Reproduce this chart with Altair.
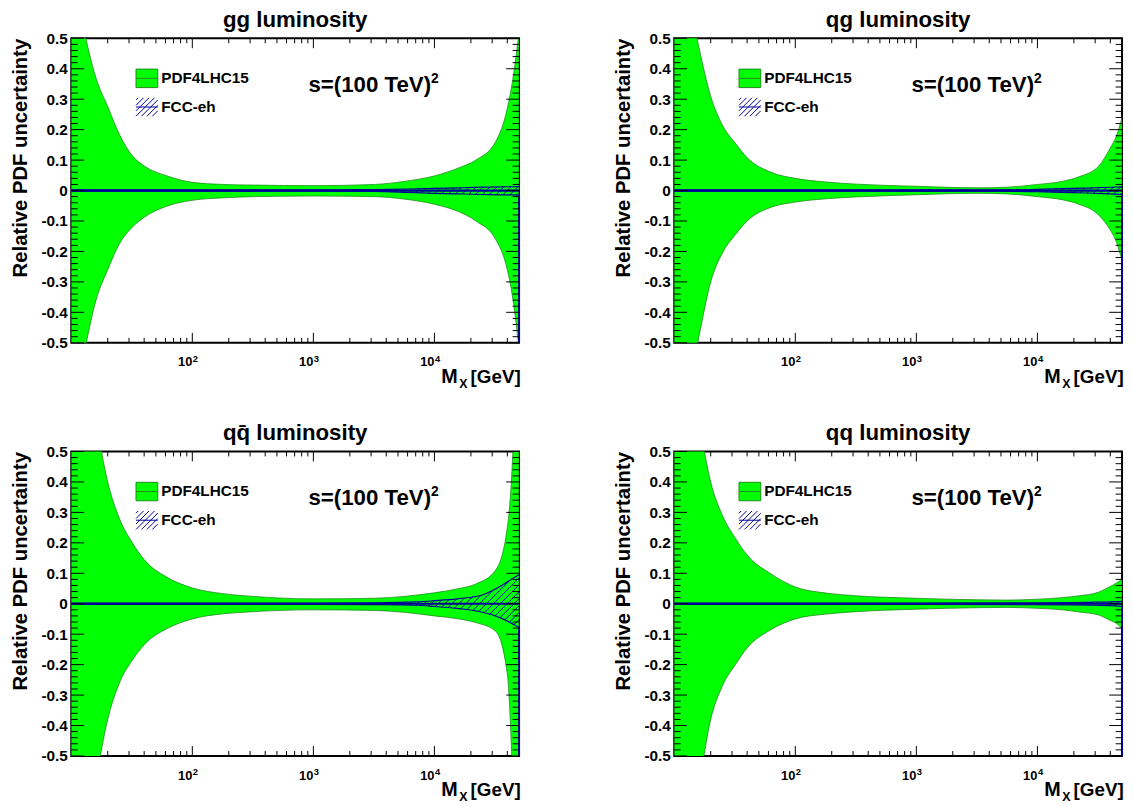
import numpy as np
import pandas as pd
import altair as alt

FONT = "Liberation Sans"
GREEN = "#00ff00"
DKGREEN = "#1e8c1e"
NAVY = "#000099"

W, H = 453, 308
X_DOMAIN = [10, 50000]
Y_DOMAIN = [-0.5, 0.5]

TITLES = ["gg luminosity", "qg luminosity", "qq\u0304 luminosity", "qq luminosity"]

# ---- PDF4LHC15 band ----
M_GRID = [10, 12.5, 16, 20, 25, 32, 40, 63, 100, 180, 320, 1000, 3200, 5600,
          10000, 16000, 22000, 32000, 40000, 45000, 50000]

GG_HI = [0.72, 0.54, 0.37, 0.276, 0.184, 0.114, 0.081, 0.047, 0.027, 0.02, 0.018,
         0.016, 0.02, 0.03, 0.048, 0.075, 0.10, 0.16, 0.27, 0.38, 0.52]
GG_LO = [-0.72, -0.55, -0.36, -0.26, -0.175, -0.12, -0.088, -0.05, -0.032, -0.024, -0.02,
         -0.018, -0.02, -0.028, -0.045, -0.07, -0.10, -0.16, -0.26, -0.37, -0.52]

QG_HI = [0.95, 0.68, 0.47, 0.31, 0.215, 0.155, 0.108, 0.06, 0.04, 0.028, 0.021,
         0.014, 0.009, 0.011, 0.02, 0.03, 0.045, 0.08, 0.14, 0.18, 0.24]
QG_LO = [-0.95, -0.70, -0.48, -0.30, -0.205, -0.145, -0.10, -0.055, -0.038, -0.027, -0.021,
         -0.014, -0.009, -0.011, -0.02, -0.03, -0.045, -0.08, -0.13, -0.17, -0.23]

QQB_HI = [1.2, 0.85, 0.6, 0.4, 0.28, 0.2, 0.145, 0.085, 0.052, 0.033, 0.024,
          0.016, 0.018, 0.024, 0.036, 0.05, 0.065, 0.11, 0.25, 0.55, 1.2]
QQB_LO = [-1.2, -0.85, -0.58, -0.38, -0.26, -0.185, -0.135, -0.08, -0.05, -0.033, -0.026,
          -0.02, -0.022, -0.028, -0.04, -0.05, -0.062, -0.09, -0.23, -0.65, -1.2]

QQ_HI = [1.2, 0.85, 0.6, 0.4, 0.29, 0.215, 0.16, 0.098, 0.055, 0.035, 0.026,
         0.018, 0.013, 0.012, 0.015, 0.02, 0.026, 0.038, 0.057, 0.068, 0.081]
QQ_LO = [-1.2, -0.85, -0.6, -0.38, -0.27, -0.2, -0.145, -0.085, -0.05, -0.034, -0.026,
         -0.018, -0.013, -0.012, -0.015, -0.02, -0.027, -0.037, -0.055, -0.065, -0.081]

# ---- FCC-eh band ----
FCC_GG_M = [10, 100, 1000, 3200, 6000, 10000, 16000, 25000, 35000, 50000]
FCC_GG_HI = [0.002, 0.002, 0.002, 0.003, 0.005, 0.007, 0.009, 0.011, 0.012, 0.013]
FCC_GG_LO = [-0.002, -0.002, -0.002, -0.003, -0.006, -0.009, -0.011, -0.013, -0.014, -0.015]

FCC_QG_M = [10, 100, 1000, 5000, 10000, 16000, 25000, 35000, 50000]
FCC_QG_HI = [0.002, 0.002, 0.002, 0.002, 0.004, 0.006, 0.008, 0.010, 0.012]
FCC_QG_LO = [-0.002, -0.002, -0.002, -0.002, -0.004, -0.006, -0.008, -0.010, -0.013]

FCC_QQB_M = [10, 100, 1000, 3200, 7000, 10000, 16000, 24500, 36000, 46000, 50000]
FCC_QQB_HI = [0.002, 0.002, 0.002, 0.003, 0.006, 0.010, 0.017, 0.028, 0.060, 0.087, 0.095]
FCC_QQB_LO = [-0.002, -0.002, -0.002, -0.003, -0.005, -0.009, -0.016, -0.027, -0.048, -0.070, -0.078]

FCC_QQ_M = [10, 100, 1000, 10000, 20000, 30000, 40000, 50000]
FCC_QQ_HI = [0.002, 0.002, 0.002, 0.003, 0.004, 0.005, 0.006, 0.008]
FCC_QQ_LO = [-0.002, -0.002, -0.002, -0.003, -0.004, -0.005, -0.006, -0.008]

FCC_CENTER_M = [10, 50000]
FCC_CENTER_V = [0.0, 0.0]

# ---- ticks / labels ----
X_MAJOR = [100, 1000, 10000]
X_EXP = ["2", "3", "4"]
X_MINOR = [d * 10 ** e for e in (1, 2, 3) for d in range(2, 10)] + [20000, 30000, 40000]
Y_MAJOR = [k / 10 for k in range(-5, 6)]
Y_MINOR = [k / 50 for k in range(-25, 26) if k % 5 != 0]

LEG_NAMES = ["PDF4LHC15", "FCC-eh"]
ANNOT = ["s=(100 TeV)"]
ANNOT_EXP = ["2"]

PATH_BOX = "M-1,-0.85H1V0.85H-1Z M-1,0H1"
PATH_HATCH = ("M-1,-0.65L-0.8,-0.85 M-1,-0.15L-0.3,-0.85 M-1,0.35L0.2,-0.85 "
              "M-1,0.85L0.7,-0.85 M-0.5,0.85L1,-0.65 M0,0.85L1,-0.15 M0.5,0.85L1,0.35 M-1,0H1")

XS = alt.Scale(type="log", domain=X_DOMAIN, nice=False)
YS = alt.Scale(domain=Y_DOMAIN, nice=False, zero=False)
LOG_MIN, LOG_MAX = np.log10(X_DOMAIN[0]), np.log10(X_DOMAIN[1])
HATCH_STEP = 7.0


def hatch_segments(m, hi, lo):
    m = np.asarray(m, float)
    X = (np.log10(m) - LOG_MIN) / (LOG_MAX - LOG_MIN) * W
    span = Y_DOMAIN[1] - Y_DOMAIN[0]
    Yhi = (np.asarray(hi, float) - Y_DOMAIN[0]) / span * H
    Ylo = (np.asarray(lo, float) - Y_DOMAIN[0]) / span * H

    def cross(Yb, c):
        f = Yb - X - c
        for i in range(len(X) - 1):
            if f[i] == 0:
                return X[i]
            if f[i] * f[i + 1] < 0:
                t = f[i] / (f[i] - f[i + 1])
                return X[i] + t * (X[i + 1] - X[i])
        return None

    rows = []
    cmin, cmax = (Ylo - X).min(), (Yhi - X).max()
    c = np.ceil(cmin / HATCH_STEP) * HATCH_STEP
    while c <= cmax:
        xl = cross(Ylo, c)
        xu = cross(Yhi, c)
        if xl is not None:
            xe = X[-1] if (xu is None or xu < xl) else xu
            if xe - xl > 0.5:
                rows.append({
                    "m1": 10 ** (LOG_MIN + xl / W * (LOG_MAX - LOG_MIN)),
                    "v1": Y_DOMAIN[0] + (xl + c) / H * span,
                    "m2": 10 ** (LOG_MIN + xe / W * (LOG_MAX - LOG_MIN)),
                    "v2": Y_DOMAIN[0] + (xe + c) / H * span,
                })
        c += HATCH_STEP
    return pd.DataFrame(rows)


Y_AXIS = alt.Axis(
    values=Y_MAJOR,
    labelExpr="datum.value == 0 ? '0' : (datum.value < 0 ? '-' : '') + format(abs(datum.value), '.1f')",
    title="Relative PDF uncertainty", titleFont=FONT, titleFontSize=20.5, titleFontWeight="bold",
    titleColor="black", titleAnchor="end", titlePadding=11,
    labelFont=FONT, labelFontSize=15.5, labelFontWeight="bold", labelColor="black",
    labelPadding=4, ticks=False, domain=False, grid=False, labelOverlap=False,
)


def xq(field):
    return alt.X(f"{field}:Q", scale=XS, axis=None)


def yq(field):
    return alt.Y(f"{field}:Q", scale=YS, axis=Y_AXIS)


LEGEND = alt.Legend(
    title=None, orient="none", legendX=65, legendY=29, symbolSize=484,
    symbolStrokeWidth=1, symbolOpacity=1, labelFont=FONT, labelFontSize=15.5,
    labelFontWeight="bold", labelColor="black", labelOffset=3, rowPadding=6, padding=0,
)


def panel(title, hi, lo, fm, fhi, flo):
    band_df = pd.DataFrame({"m": M_GRID, "hi": hi, "lo": lo})
    fcc_df = pd.DataFrame({"m": fm, "hi": fhi, "lo": flo})
    cen_df = pd.DataFrame({"m": FCC_CENTER_M, "v": FCC_CENTER_V})
    edge_df = pd.DataFrame({"m": [fm[-1]], "a": [flo[-1]], "b": [Y_DOMAIN[0]]})
    hatch_df = hatch_segments(fm, fhi, flo)

    layers = []
    layers.append(alt.Chart(band_df).mark_area(
        color=GREEN, stroke=DKGREEN, strokeWidth=0.8, interpolate="monotone", clip=True
    ).encode(x=xq("m"), y=yq("hi"), y2="lo:Q"))
    layers.append(alt.Chart(hatch_df).mark_rule(color=NAVY, strokeWidth=1, clip=True).encode(
        x=xq("m1"), x2="m2:Q", y=yq("v1"), y2="v2:Q"))
    for f in ("hi", "lo"):
        layers.append(alt.Chart(fcc_df).mark_line(color=NAVY, strokeWidth=1.2, interpolate="monotone", clip=True)
                      .encode(x=xq("m"), y=yq(f)))
    layers.append(alt.Chart(cen_df).mark_line(color=NAVY, strokeWidth=2.2, clip=True)
                  .encode(x=xq("m"), y=yq("v")))
    layers.append(alt.Chart(edge_df).mark_rule(color=NAVY, strokeWidth=2)
                  .encode(x=xq("m"), y=yq("a"), y2="b:Q"))

    # ticks (inward, ROOT style)
    xmaj = pd.DataFrame({"v": X_MAJOR})
    xmin = pd.DataFrame({"v": X_MINOR})
    ymaj = pd.DataFrame({"v": Y_MAJOR})
    ymin = pd.DataFrame({"v": Y_MINOR})
    for df, ln in ((xmaj, 10), (xmin, 5)):
        layers.append(alt.Chart(df).mark_rule(color="black", strokeWidth=1).encode(
            x=xq("v"), y=alt.value(H), y2=alt.value(H - ln)))
        layers.append(alt.Chart(df).mark_rule(color="black", strokeWidth=1).encode(
            x=xq("v"), y=alt.value(0), y2=alt.value(ln)))
    for df, ln in ((ymaj, 13), (ymin, 6.5)):
        layers.append(alt.Chart(df).mark_rule(color="black", strokeWidth=1).encode(
            y=yq("v"), x=alt.value(0), x2=alt.value(ln)))
        layers.append(alt.Chart(df).mark_rule(color="black", strokeWidth=1).encode(
            y=yq("v"), x=alt.value(W - ln), x2=alt.value(W)))

    # x tick labels 10^n
    lab_df = pd.DataFrame({"v": X_MAJOR, "e": X_EXP, "b": ["10"] * len(X_MAJOR)})
    layers.append(alt.Chart(lab_df).mark_text(
        font=FONT, fontSize=13, fontWeight="bold", color="black", align="right", baseline="alphabetic"
    ).encode(x=xq("v"), y=alt.value(H + 24), text="b:N"))
    layers.append(alt.Chart(lab_df).mark_text(
        font=FONT, fontSize=9.5, fontWeight="bold", color="black", align="left", baseline="alphabetic", dx=0.5
    ).encode(x=xq("v"), y=alt.value(H + 19), text="e:N"))

    # x title M_X [GeV]
    t_df = pd.DataFrame({"a": ["M"], "b": ["X"], "c": ["[GeV]"]})
    layers.append(alt.Chart(t_df).mark_text(font=FONT, fontSize=20, fontWeight="bold", color="black",
                                            align="right", baseline="alphabetic")
                  .encode(x=alt.value(W - 62), y=alt.value(H + 41), text="a:N"))
    layers.append(alt.Chart(t_df).mark_text(font=FONT, fontSize=12.5, fontWeight="bold", color="black",
                                            align="left", baseline="alphabetic")
                  .encode(x=alt.value(W - 60.5), y=alt.value(H + 46), text="b:N"))
    layers.append(alt.Chart(t_df).mark_text(font=FONT, fontSize=19, fontWeight="bold", color="black",
                                            align="left", baseline="alphabetic")
                  .encode(x=alt.value(W - 49), y=alt.value(H + 41), text="c:N"))

    # annotation s=(100 TeV)^2
    a_df = pd.DataFrame({"t": ANNOT, "e": ANNOT_EXP})
    layers.append(alt.Chart(a_df).mark_text(font=FONT, fontSize=22.5, fontWeight="bold", color="black",
                                            align="left", baseline="alphabetic")
                  .encode(x=alt.value(240), y=alt.value(54), text="t:N"))
    layers.append(alt.Chart(a_df).mark_text(font=FONT, fontSize=14, fontWeight="bold", color="black",
                                            align="left", baseline="alphabetic")
                  .encode(x=alt.value(364), y=alt.value(45), text="e:N"))

    # legend
    leg_df = pd.DataFrame({"name": LEG_NAMES})
    layers.append(alt.Chart(leg_df).mark_point(opacity=0, size=1).encode(
        fill=alt.Fill("name:N", scale=alt.Scale(domain=LEG_NAMES, range=[GREEN, "transparent"]), legend=LEGEND),
        stroke=alt.Stroke("name:N", scale=alt.Scale(domain=LEG_NAMES, range=[DKGREEN, NAVY]), legend=LEGEND),
        shape=alt.Shape("name:N", scale=alt.Scale(domain=LEG_NAMES, range=[PATH_BOX, PATH_HATCH]), legend=LEGEND),
    ))

    return alt.layer(*layers).properties(
        width=W, height=H,
        title=alt.TitleParams(title, font=FONT, fontSize=22.5, fontWeight="bold", color="black",
                              anchor="middle", frame="group", offset=0),
    )


p1 = panel(TITLES[0], GG_HI, GG_LO, FCC_GG_M, FCC_GG_HI, FCC_GG_LO)
p2 = panel(TITLES[1], QG_HI, QG_LO, FCC_QG_M, FCC_QG_HI, FCC_QG_LO)
p3 = panel(TITLES[2], QQB_HI, QQB_LO, FCC_QQB_M, FCC_QQB_HI, FCC_QQB_LO)
p4 = panel(TITLES[3], QQ_HI, QQ_LO, FCC_QQ_M, FCC_QQ_HI, FCC_QQ_LO)

chart = alt.concat(p1, p2, p3, p4, columns=2, spacing={"row": 29, "column": 91}).resolve_scale(
    fill="independent", stroke="independent", shape="independent"
).properties(
    padding={"top": -5, "left": 1, "right": 0, "bottom": 0}, background="white"
).configure_view(stroke="black", strokeWidth=2)

chart.save("out.html", embed_options={"renderer": "svg", "actions": False})
